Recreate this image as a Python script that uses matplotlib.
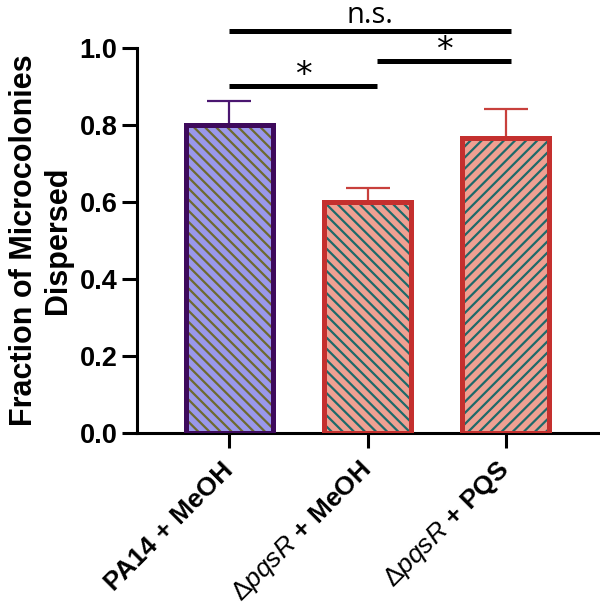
import matplotlib
matplotlib.use("Agg")
import matplotlib.pyplot as plt

# ---- data ----
categories = ["PA14 + MeOH", r"$\Delta\mathit{pqsR}$ + MeOH", r"$\Delta\mathit{pqsR}$ + PQS"]
means = [0.80, 0.60, 0.765]
errs = [0.062, 0.037, 0.077]
yticks = [0.0, 0.2, 0.4, 0.6, 0.8, 1.0]
ylabel = "Fraction of Microcolonies\nDispersed"

# significance brackets: (x_start, x_end, y, label)
sig_x0 = [0.0, 1.07, 0.0]
sig_x1 = [1.07, 2.04, 2.04]
sig_y = [0.90, 0.965, 1.045]
sig_lab = ["*", "*", "n.s."]

# ---- styles ----
face_colors = ["#9a98ec", "#f0a092", "#f0a092"]
hatch_colors = ["#6e6a30", "#1e6a6a", "#1e6a6a"]
edge_colors = ["#3e0a5c", "#c4302e", "#c4302e"]
err_colors = ["#4a1670", "#c8403c", "#c8403c"]
hatches = ["\\\\\\", "\\\\\\", "///"]

plt.rcParams["mathtext.fontset"] = "custom"
plt.rcParams["mathtext.rm"] = "Liberation Sans"
plt.rcParams["mathtext.it"] = "Liberation Sans:italic"
plt.rcParams["mathtext.bf"] = "Liberation Sans:bold"
plt.rcParams["font.family"] = ["Liberation Sans", "DejaVu Sans"]
plt.rcParams["hatch.linewidth"] = 1.6

fig = plt.figure(figsize=(6.0, 6.12), dpi=100)
ax = fig.add_axes([0.2283, 0.2925, 0.7684, 0.6291])

x = list(range(len(categories)))
width = 0.63
for i in x:
    ax.bar(i, means[i], width=width, color=face_colors[i], edgecolor=hatch_colors[i],
           hatch=hatches[i], linewidth=0, zorder=2)
    ax.bar(i, means[i], width=width, fill=False, edgecolor=edge_colors[i],
           linewidth=3.6, zorder=3)
    ax.errorbar(i, means[i], yerr=[[0], [errs[i]]], fmt="none", ecolor=err_colors[i],
                elinewidth=1.6, capsize=16, capthick=1.6, zorder=1)

ax.set_xlim(-0.667, 2.667)
ax.set_ylim(0, 1.0)
ax.set_yticks(yticks)
ax.set_yticklabels([f"{v:.1f}" for v in yticks], fontsize=19.5, fontweight="bold")
ax.set_xticks(x)
ax.set_xticklabels(categories, fontsize=19, fontweight="bold", rotation=45,
                   ha="right", va="center", rotation_mode="anchor")
ax.tick_params(axis="both", width=2.2, length=11, color="black")
ax.tick_params(axis="x", pad=13)
ax.tick_params(axis="y", pad=3)
for s in ["top", "right"]:
    ax.spines[s].set_visible(False)
for s in ["left", "bottom"]:
    ax.spines[s].set_linewidth(2.2)

ax.set_ylabel(ylabel, fontsize=22, fontweight="bold", labelpad=5, linespacing=1.15)

for x0, x1, y, lab in zip(sig_x0, sig_x1, sig_y, sig_lab):
    ax.plot([x0, x1], [y, y], color="black", lw=3.6, clip_on=False, solid_capstyle="butt")
    if lab == "*":
        ax.text((x0 + x1) / 2, y + 0.004, lab, ha="center", va="baseline",
                fontsize=24, family="DejaVu Sans", clip_on=False)
    else:
        ax.text((x0 + x1) / 2, y + 0.019, lab, ha="center", va="baseline",
                fontsize=21, family="Open Sans", clip_on=False)

fig.savefig("out.png", dpi=100)
